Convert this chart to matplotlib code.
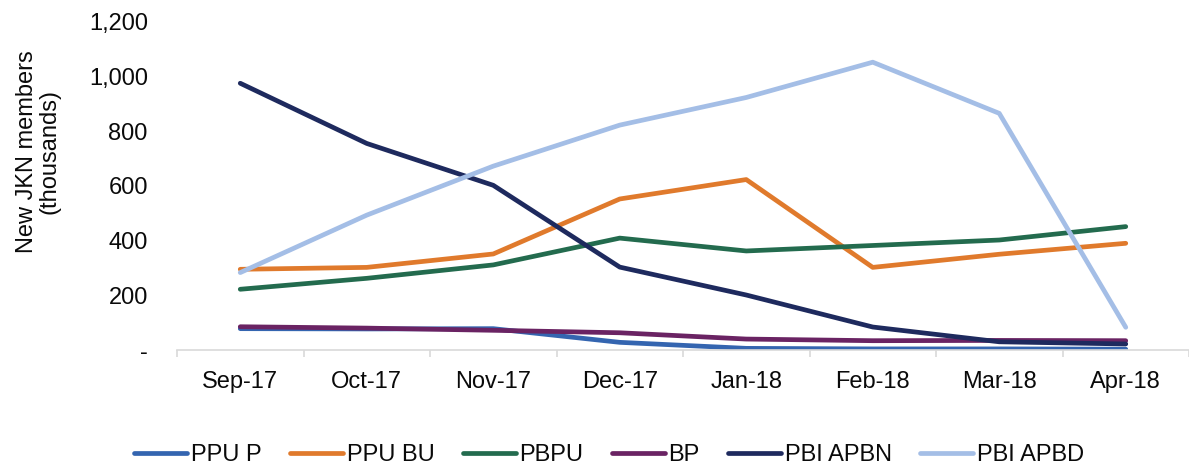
import matplotlib
matplotlib.use("Agg")
import matplotlib.pyplot as plt
from matplotlib.ticker import FuncFormatter, FixedLocator

months = ["Sep-17", "Oct-17", "Nov-17", "Dec-17", "Jan-18", "Feb-18", "Mar-18", "Apr-18"]
ppu_p = [78, 77, 78, 28, 6, 4, 4, 3]
ppu_bu = [295, 302, 351, 552, 623, 302, 350, 390]
pbpu = [222, 262, 311, 409, 362, 382, 402, 451]
bp = [85, 80, 72, 63, 40, 34, 35, 34]
pbi_apbn = [975, 755, 602, 303, 201, 84, 30, 22]
pbi_apbd = [283, 493, 672, 822, 923, 1052, 865, 83]

series_names = ["PPU P", "PPU BU", "PBPU", "BP", "PBI APBN", "PBI APBD"]
series_values = [ppu_p, ppu_bu, pbpu, bp, pbi_apbn, pbi_apbd]
colors = ["#3465B0", "#E07A2C", "#236B4E", "#6A2363", "#1E2A5E", "#A4BEE6"]

plt.rcParams['font.family'] = ['Liberation Sans', 'DejaVu Sans']
FS = 17

W, H = 1189, 468
fig = plt.figure(figsize=(W / 100, H / 100), dpi=100)
ax = fig.add_axes([177 / W, 1 - 350 / H, (W - 177) / W, (350 - 21.7) / H])

x = list(range(len(months)))
for name, vals, c in zip(series_names, series_values, colors):
    ax.plot(x, vals, color=c, lw=3.4, label=name, solid_capstyle='round',
            solid_joinstyle='round')

ax.set_xlim(-0.5, len(months) - 0.5)
ax.set_ylim(0, 1200)
ax.set_yticks(range(0, 1201, 200))
ax.yaxis.set_major_formatter(FuncFormatter(lambda v, p: "-" if v == 0 else f"{int(v):,}"))
ax.set_xticks(x)
ax.set_xticklabels(months)
ax.xaxis.set_minor_locator(FixedLocator([i - 0.5 for i in range(len(months) + 1)]))

for s in ["top", "right", "left"]:
    ax.spines[s].set_visible(False)
ax.spines["bottom"].set_color("#D9D9D9")
ax.spines["bottom"].set_linewidth(1.2)

ax.tick_params(axis='y', length=0, pad=21, labelsize=FS, labelcolor='#0a0a0a')
ax.tick_params(axis='x', which='major', length=0, pad=15, labelsize=FS, labelcolor='#0a0a0a')
ax.tick_params(axis='x', which='minor', length=5, width=1.2, color='#D9D9D9')

fig.text(38 / W, 1 - 152 / H, "New JKN members\n(thousands)", rotation=90,
         ha='center', va='center', fontsize=FS, color='#0a0a0a', multialignment='center',
         linespacing=1.05)

fig.legend(loc='center', bbox_to_anchor=(609 / W, 1 - 455 / H), ncol=6, frameon=False,
           fontsize=FS, handlelength=2.25, handletextpad=0.15, columnspacing=1.2,
           labelcolor='#0a0a0a')

fig.savefig("out.png", dpi=100)
